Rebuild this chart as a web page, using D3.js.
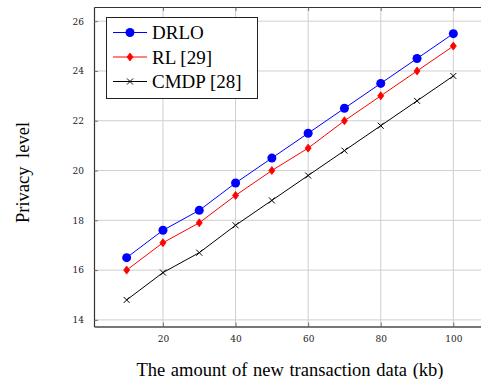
<!DOCTYPE html>
<html>
<head>
<meta charset="utf-8">
<script src="https://cdn.jsdelivr.net/npm/d3@7"></script>
<style>
	body { margin: 0; background: #fff; }
	svg { display: block; }
	.grid line { stroke: #cfcfcf; stroke-width: 1px; }
	.tick-label { font-family: "DejaVu Serif", serif; font-size: 9px; fill: #222; }
</style>
</head>
<body>
<svg id="chart"></svg>
<script>
var xValues = [10, 20, 30, 40, 50, 60, 70, 80, 90, 100];
var drlo = [16.5, 17.6, 18.4, 19.5, 20.5, 21.5, 22.5, 23.5, 24.5, 25.5];
var rl = [16.0, 17.1, 17.9, 19.0, 20.0, 20.9, 22.0, 23.0, 24.0, 25.0];
var cmdp = [14.8, 15.9, 16.7, 17.8, 18.8, 19.8, 20.8, 21.8, 22.8, 23.8];
var xTicks = [20, 40, 60, 80, 100];
var yTicks = [14, 16, 18, 20, 22, 24, 26];
var seriesNames = ["DRLO", "RL [29]", "CMDP [28]"];

var width = 481, height = 379;
var svg = d3.select("#chart").attr("width", width).attr("height", height);

// plot area (right edge runs past the window, as in the original crop)
var plotLeft = 94, plotRight = 486, plotTop = 7, plotBottom = 326.6;

var x = d3.scaleLinear().domain([1, 109]).range([plotLeft, plotRight]);
var y = d3.scaleLinear().domain([13.73, 26.57]).range([plotBottom, plotTop]);

// grid
var grid = svg.append("g").attr("class", "grid");
xTicks.forEach(function(t) {
	grid.append("line").attr("x1", x(t)).attr("x2", x(t)).attr("y1", plotTop).attr("y2", plotBottom);
});
yTicks.forEach(function(t) {
	grid.append("line").attr("x1", plotLeft).attr("x2", plotRight).attr("y1", y(t)).attr("y2", y(t));
});

// axes through d3, ticks drawn inward
var xAxis = d3.axisBottom(x).tickValues(xTicks).tickSizeInner(-4).tickSizeOuter(0).tickPadding(9);
var yAxis = d3.axisLeft(y).tickValues(yTicks).tickSizeInner(-4).tickSizeOuter(0).tickPadding(10);
var xTop = d3.axisTop(x).tickValues(xTicks).tickSizeInner(-4).tickSizeOuter(0).tickFormat("");
var yRight = d3.axisRight(y).tickValues(yTicks).tickSizeInner(-4).tickSizeOuter(0).tickFormat("");

function styleAxis(g, color, w) {
	g.select(".domain").attr("stroke", color).attr("stroke-width", w);
	g.selectAll(".tick line").attr("stroke", "#555").attr("stroke-width", 0.8);
	g.selectAll(".tick text").attr("class", "tick-label").attr("font-family", null).attr("font-size", null);
}

svg.append("g").attr("transform", "translate(0," + plotBottom + ")").call(xAxis).call(styleAxis, "#777", 2);
svg.append("g").attr("transform", "translate(" + plotLeft + ",0)").call(yAxis).call(styleAxis, "#333", 1.2);
svg.append("g").attr("transform", "translate(0," + plotTop + ")").call(xTop).call(styleAxis, "#333", 1.2);
svg.append("g").attr("transform", "translate(" + plotRight + ",0)").call(yRight).call(styleAxis, "#333", 1.2);

// series
var line = d3.line().x(function(d) { return x(d[0]); }).y(function(d) { return y(d[1]); });
function pairs(vals) { return xValues.map(function(v, i) { return [v, vals[i]]; }); }

var series = [
	{ name: seriesNames[0], values: drlo, color: "#0000ff", marker: "circle" },
	{ name: seriesNames[1], values: rl, color: "#ff0000", marker: "diamond" },
	{ name: seriesNames[2], values: cmdp, color: "#000000", marker: "cross" }
];

function drawMarker(g, type, cx, cy, color) {
	if (type == "circle") {
		g.append("circle").attr("cx", cx).attr("cy", cy).attr("r", 4.5).attr("fill", color);
	}
	else if (type == "diamond") {
		g.append("path")
			.attr("d", "M" + cx + "," + (cy - 4) + " L" + (cx + 3) + "," + cy + " L" + cx + "," + (cy + 4) + " L" + (cx - 3) + "," + cy + " Z")
			.attr("fill", color).attr("stroke", color).attr("stroke-width", 0.8);
	}
	else {
		g.append("path")
			.attr("d", "M" + (cx - 3) + "," + (cy - 3) + " L" + (cx + 3) + "," + (cy + 3) + " M" + (cx - 3) + "," + (cy + 3) + " L" + (cx + 3) + "," + (cy - 3))
			.attr("stroke", color).attr("stroke-width", 1).attr("fill", "none");
	}
}

series.forEach(function(s) {
	var g = svg.append("g");
	g.append("path").attr("d", line(pairs(s.values)))
		.attr("fill", "none").attr("stroke", s.color).attr("stroke-width", 1);
	pairs(s.values).forEach(function(p) {
		drawMarker(g, s.marker, x(p[0]), y(p[1]), s.color);
	});
});

// legend
var legend = svg.append("g");
legend.append("rect").attr("x", 106.5).attr("y", 17.5).attr("width", 151).attr("height", 81)
	.attr("fill", "#fff").attr("stroke", "#222").attr("stroke-width", 1);
series.forEach(function(s, i) {
	var ly = 32.5 + i * 24.5;
	legend.append("line").attr("x1", 113).attr("x2", 147).attr("y1", ly).attr("y2", ly)
		.attr("stroke", s.color).attr("stroke-width", 1);
	drawMarker(legend, s.marker, 130, ly, s.color);
	legend.append("text").attr("x", 152).attr("y", ly + 6.5).text(s.name)
		.attr("font-family", "'Liberation Serif', serif").attr("font-size", 19).attr("fill", "#000");
});

// axis labels
svg.append("text").attr("x", 290).attr("y", 376).attr("text-anchor", "middle")
	.attr("font-family", "'Liberation Serif', serif").attr("font-size", 18.5).attr("word-spacing", 1)
	.text("The amount of new transaction data (kb)");
svg.append("text").attr("transform", "translate(29,172.5) rotate(-90)")
	.attr("text-anchor", "middle")
	.attr("font-family", "'Liberation Serif', serif").attr("font-size", 18.5).attr("word-spacing", 4)
	.text("Privacy level");
</script>
</body>
</html>
